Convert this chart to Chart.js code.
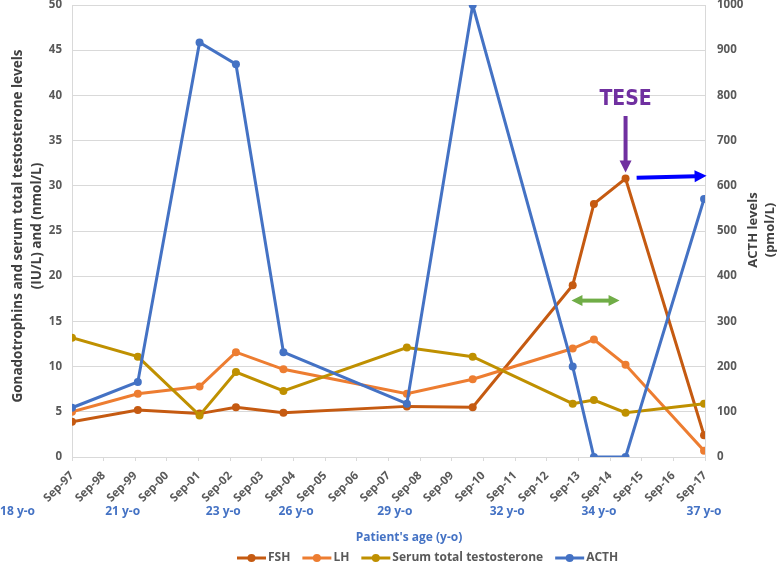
<!DOCTYPE html>
<html>
<head>
<meta charset="utf-8">
<script src="https://cdn.jsdelivr.net/npm/chart.js@4.4.0/dist/chart.umd.min.js"></script>
<style>
html,body{margin:0;padding:0;background:#fff;}
#wrap{width:778px;height:563px;position:relative;}
</style>
</head>
<body>
<div id="wrap"><canvas id="c" width="778" height="563"></canvas></div>
<script>
// ---- data ----
const tickLabels = ["Sep-97","Sep-98","Sep-99","Sep-00","Sep-01","Sep-02","Sep-03","Sep-04","Sep-05","Sep-06","Sep-07","Sep-08","Sep-09","Sep-10","Sep-11","Sep-12","Sep-13","Sep-14","Sep-15","Sep-16","Sep-17"];
// sample times, in years after Sep-97
const sampleYears = [0, 2.08, 4.03, 5.18, 6.68, 10.58, 12.66, 15.82, 16.49, 17.49, 19.97];
const fsh  = [3.9, 5.2, 4.8, 5.5, 4.9, 5.6, 5.5, 19.0, 28.0, 30.8, 2.4];
const lh   = [5.0, 7.0, 7.8, 11.6, 9.7, 7.0, 8.6, 12.0, 13.0, 10.2, 0.7];
const testo = [13.2, 11.1, 4.6, 9.4, 7.3, 12.1, 11.1, 5.9, 6.3, 4.9, 5.9];
const acth = [109, 166, 917, 869, 232, 118, 1000, 200, 0, 0, 571];
const ageLabels = ["18 y-o","21 y-o","23 y-o","26 y-o","29 y-o","32 y-o","34 y-o","37 y-o"];
const agePositions = [-1.72, 1.6, 4.78, 7.08, 10.2, 13.75, 16.65, 19.97];
const seriesNames = ["FSH","LH","Serum total testosterone","ACTH"];
const seriesColors = ["#C55A11","#ED7D31","#BF9000","#4472C4"];

const pts = arr => arr.map((v,i)=>({x: sampleYears[i], y: v}));
const FONT = "'Open Sans', Lato, sans-serif";
const TXT = "#595959";

function ds(i, arr, axis, order){
  return {
    label: seriesNames[i], data: pts(arr), yAxisID: axis, order: order,
    borderColor: seriesColors[i], backgroundColor: seriesColors[i],
    borderWidth: 3, pointRadius: 4, pointHoverRadius: 4, pointBorderWidth: 0, tension: 0
  };
}

function arrowLine(ctx, x1, y1, x2, y2, color, w, headL, headW, both){
  ctx.save();
  ctx.strokeStyle = color; ctx.fillStyle = color; ctx.lineWidth = w;
  const a = Math.atan2(y2-y1, x2-x1);
  const sx = both ? x1 + Math.cos(a)*headL*0.9 : x1;
  const sy = both ? y1 + Math.sin(a)*headL*0.9 : y1;
  const ex = x2 - Math.cos(a)*headL*0.9, ey = y2 - Math.sin(a)*headL*0.9;
  ctx.beginPath(); ctx.moveTo(sx, sy); ctx.lineTo(ex, ey); ctx.stroke();
  const head = (tx, ty, ang) => {
    ctx.beginPath();
    ctx.moveTo(tx, ty);
    ctx.lineTo(tx - Math.cos(ang)*headL - Math.sin(ang)*headW/2, ty - Math.sin(ang)*headL + Math.cos(ang)*headW/2);
    ctx.lineTo(tx - Math.cos(ang)*headL + Math.sin(ang)*headW/2, ty - Math.sin(ang)*headL - Math.cos(ang)*headW/2);
    ctx.closePath(); ctx.fill();
  };
  head(x2, y2, a);
  if (both) head(x1, y1, a + Math.PI);
  ctx.restore();
}

const extras = {
  id: 'extras',
  afterDraw(chart){
    const ctx = chart.ctx;
    const xs = chart.scales.x, yl = chart.scales.y, yr = chart.scales.y2;
    ctx.save();
    // age labels
    ctx.font = "bold 12px " + FONT;
    ctx.fillStyle = "#4472C4";
    ctx.textAlign = "center"; ctx.textBaseline = "middle";
    ageLabels.forEach((t,i)=>{
      ctx.fillText(t, xs.getPixelForValue(agePositions[i]), 512);
    });
    ctx.fillText("Patient's age (y-o)", 409, 538);
    // left axis title
    ctx.fillStyle = "#404040";
    ctx.font = "bold 13.5px " + FONT;
    ctx.save();
    ctx.translate(18, 226); ctx.rotate(-Math.PI/2);
    ctx.fillText("Gonadotrophins and serum total testosterone levels", 0, 0);
    ctx.restore();
    ctx.save();
    ctx.translate(37, 226); ctx.rotate(-Math.PI/2);
    ctx.fillText("(IU/L) and (nmol/L)", 0, 0);
    ctx.restore();
    // right axis title
    ctx.font = "bold 13px " + FONT;
    ctx.save();
    ctx.translate(753, 230); ctx.rotate(-Math.PI/2);
    ctx.fillText("ACTH levels", 0, 0);
    ctx.restore();
    ctx.save();
    ctx.translate(770, 230); ctx.rotate(-Math.PI/2);
    ctx.fillText("(pmol/L)", 0, 0);
    ctx.restore();
    // legend
    ctx.font = "bold 12px " + FONT;
    ctx.textAlign = "left";
    let lx = 237; const ly = 558;
    seriesNames.forEach((n,i)=>{
      ctx.strokeStyle = seriesColors[i]; ctx.fillStyle = seriesColors[i];
      ctx.lineWidth = 3;
      ctx.beginPath(); ctx.moveTo(lx, ly); ctx.lineTo(lx+29, ly); ctx.stroke();
      ctx.beginPath(); ctx.arc(lx+14.5, ly, 4, 0, Math.PI*2); ctx.fill();
      ctx.fillStyle = TXT;
      ctx.fillText(n, lx+31, ly);
      lx += 31 + ctx.measureText(n).width + 12;
    });
    // TESE annotation
    const tx = xs.getPixelForValue(sampleYears[9]);
    ctx.fillStyle = "#7030A0";
    ctx.font = "bold 21px 'Liberation Sans Narrow', 'DejaVu Sans Condensed', " + FONT;
    ctx.textAlign = "center";
    ctx.fillText("TESE", tx, 100);
    arrowLine(ctx, tx, 116, tx, yl.getPixelForValue(fsh[9]) - 6, "#7030A0", 4, 12, 12, false);
    // blue arrow
    arrowLine(ctx, xs.getPixelForValue(17.84), yr.getPixelForValue(618), xs.getPixelForValue(20.05), yr.getPixelForValue(622), "#0000FF", 4, 12, 12, false);
    // green double arrow
    arrowLine(ctx, xs.getPixelForValue(15.78), yl.getPixelForValue(17.3), xs.getPixelForValue(17.3), yl.getPixelForValue(17.3), "#70AD47", 4, 11, 11, true);
    ctx.restore();
  }
};

new Chart(document.getElementById('c'), {
  type: 'line',
  data: { datasets: [
    ds(0, fsh, 'y', 4),
    ds(1, lh, 'y', 3),
    ds(2, testo, 'y', 2),
    ds(3, acth, 'y2', 1)
  ]},
  options: {
    responsive: false, animation: false,
    layout: { padding: { top: 5, left: 0, right: 0, bottom: 0 } },
    plugins: { legend: { display: false }, tooltip: { enabled: false } },
    scales: {
      x: {
        type: 'linear', min: 0, max: 20,
        afterBuildTicks: s => { s.ticks = tickLabels.map((_,i)=>({value:i})); },
        ticks: {
          autoSkip: false, maxRotation: 45, minRotation: 45,
          color: TXT, font: { family: FONT, size: 11.5, weight: 'bold' }, padding: 8,
          callback: (v) => tickLabels[Math.round(v)]
        },
        grid: { display: true, drawOnChartArea: false, drawTicks: true, tickLength: 4, color: '#d9d9d9' },
        border: { display: true, color: '#d9d9d9', width: 1 },
        afterFit: s => { s.height = 106; s.paddingLeft = 0; s.paddingRight = 0; }
      },
      y: {
        position: 'left', min: 0, max: 50,
        ticks: { stepSize: 5, color: TXT, font: { family: FONT, size: 11.5, weight: 'bold' }, padding: 10,
          callback: v => String(v) },
        grid: { color: '#d9d9d9', drawTicks: false },
        border: { display: true, color: '#d9d9d9' },
        afterFit: s => { s.width = 72; s.paddingTop = 0; s.paddingBottom = 0; }
      },
      y2: {
        position: 'right', min: 0, max: 1000,
        ticks: { stepSize: 100, color: TXT, font: { family: FONT, size: 11.5, weight: 'bold' }, padding: 12,
          callback: v => String(v) },
        grid: { drawOnChartArea: false, drawTicks: false },
        border: { display: true, color: '#d9d9d9' },
        afterFit: s => { s.width = 73; s.paddingTop = 0; s.paddingBottom = 0; }
      }
    }
  },
  plugins: [extras]
});
</script>
</body>
</html>
